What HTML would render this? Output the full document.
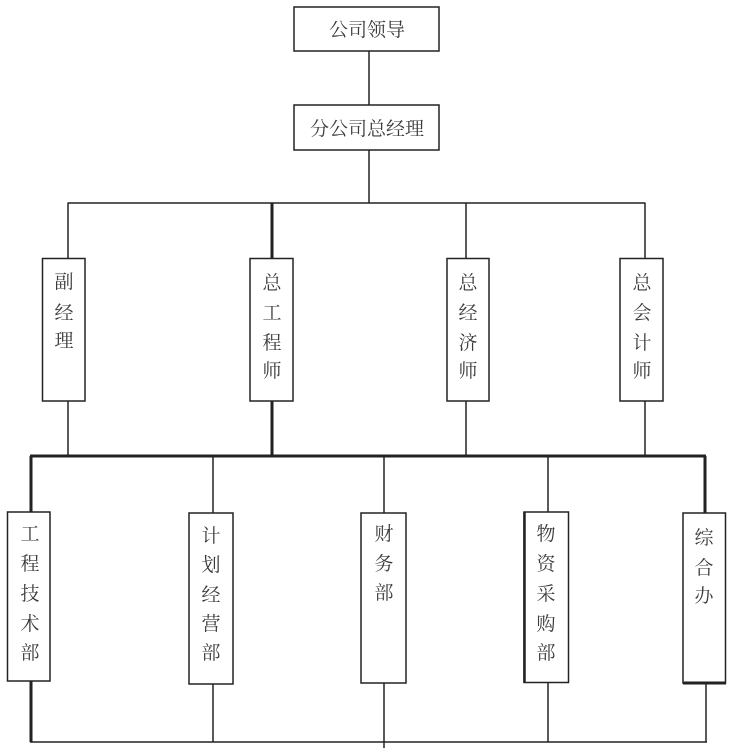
<!DOCTYPE html>
<html>
<head>
<meta charset="utf-8">
<style>
html,body{margin:0;padding:0;background:#fff;}
svg{display:block;}
text{font-family:"Liberation Serif","Noto Serif CJK SC",serif;font-size:19px;fill:#3a3a3a;text-anchor:middle;}
</style>
</head>
<body>
<svg width="732" height="748" viewBox="0 0 732 748" xmlns="http://www.w3.org/2000/svg">
<g stroke="#222" fill="none" stroke-width="1.5">
  <!-- top connectors -->
  <line x1="369" y1="51" x2="369" y2="105"/>
  <line x1="369" y1="150" x2="369" y2="203"/>
  <line x1="67.5" y1="203" x2="645.5" y2="203"/>
  <line x1="68" y1="203" x2="68" y2="258"/>
  <line x1="272" y1="203" x2="272" y2="258" stroke-width="3"/>
  <line x1="466" y1="203" x2="466" y2="258"/>
  <line x1="645" y1="203" x2="645" y2="258"/>
  <line x1="68" y1="401" x2="68" y2="456"/>
  <line x1="272" y1="401" x2="272" y2="456" stroke-width="3"/>
  <line x1="466" y1="401" x2="466" y2="456"/>
  <line x1="645" y1="401" x2="645" y2="456"/>
  <line x1="30" y1="456" x2="706" y2="456" stroke-width="3"/>
  <line x1="31" y1="456" x2="31" y2="512" stroke-width="3"/>
  <line x1="213" y1="456" x2="213" y2="513"/>
  <line x1="384" y1="456" x2="384" y2="513"/>
  <line x1="548" y1="456" x2="548" y2="512"/>
  <line x1="705" y1="456" x2="705" y2="513" stroke-width="3"/>
  <line x1="31" y1="681" x2="31" y2="742" stroke-width="3"/>
  <line x1="213" y1="684" x2="213" y2="742"/>
  <line x1="384" y1="683" x2="384" y2="748"/>
  <line x1="548" y1="683" x2="548" y2="742"/>
  <line x1="706" y1="683" x2="706" y2="742"/>
  <line x1="30" y1="742" x2="707" y2="742"/>
  <!-- boxes -->
  <rect x="294" y="7" width="145" height="44" fill="#fff"/>
  <rect x="294" y="105" width="145" height="45" fill="#fff"/>
  <rect x="42.5" y="258.5" width="42.5" height="142.5" fill="#fff"/>
  <rect x="250" y="258.5" width="43" height="142.5" fill="#fff"/>
  <rect x="447" y="258.5" width="42" height="142.5" fill="#fff"/>
  <rect x="620" y="258.5" width="43" height="142.5" fill="#fff"/>
  <rect x="7.5" y="512" width="42.5" height="169" fill="#fff"/>
  <rect x="189" y="513" width="44" height="171" fill="#fff"/>
  <rect x="361" y="513" width="45" height="170" fill="#fff"/>
  <rect x="524" y="512" width="44.5" height="170.5" fill="#fff"/>
  <line x1="524.5" y1="512" x2="524.5" y2="682.5" stroke-width="2.5"/>
  <rect x="683" y="513" width="42.5" height="170" fill="#fff"/>
  <line x1="683" y1="683" x2="726" y2="683" stroke-width="3"/>
</g>
<g>
  <text x="367" y="36">公司领导</text>
  <text x="367" y="135">分公司总经理</text>

  <text x="64" y="288">副</text>
  <text x="64" y="319">经</text>
  <text x="64" y="347">理</text>

  <text x="272" y="289">总</text>
  <text x="272" y="319">工</text>
  <text x="272" y="349">程</text>
  <text x="272" y="377">师</text>

  <text x="468" y="289">总</text>
  <text x="468" y="319">经</text>
  <text x="468" y="349">济</text>
  <text x="468" y="377">师</text>

  <text x="642" y="289">总</text>
  <text x="642" y="319">会</text>
  <text x="642" y="349">计</text>
  <text x="642" y="377">师</text>

  <text x="30" y="540">工</text>
  <text x="30" y="570">程</text>
  <text x="30" y="600">技</text>
  <text x="30" y="630">术</text>
  <text x="30" y="659">部</text>

  <text x="211" y="542">计</text>
  <text x="211" y="571">划</text>
  <text x="211" y="601">经</text>
  <text x="211" y="630">营</text>
  <text x="211" y="659">部</text>

  <text x="384" y="540">财</text>
  <text x="384" y="570">务</text>
  <text x="384" y="599">部</text>

  <text x="546" y="540">物</text>
  <text x="546" y="570">资</text>
  <text x="546" y="600">采</text>
  <text x="546" y="630">购</text>
  <text x="546" y="659">部</text>

  <text x="704" y="544">综</text>
  <text x="704" y="574">合</text>
  <text x="704" y="602">办</text>
</g>
</svg>
</body>
</html>
